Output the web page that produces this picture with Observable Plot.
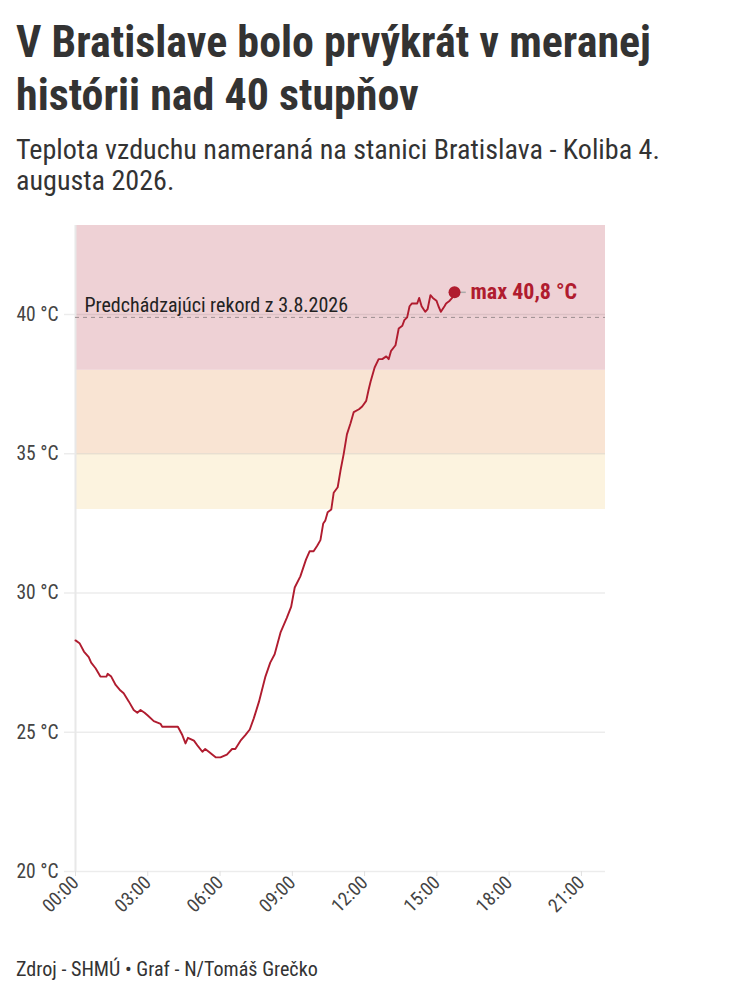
<!DOCTYPE html>
<html>
<head>
<meta charset="utf-8">
<script src="https://cdn.jsdelivr.net/npm/d3@7"></script>
<script src="https://cdn.jsdelivr.net/npm/@observablehq/plot@0.6"></script>
<style>
  html, body { margin: 0; padding: 0; background: #fff; }
  body { width: 738px; height: 1000px; position: relative; overflow: hidden; font-family: "Roboto Condensed", Roboto, sans-serif; color: #333; }
  .tline { position: absolute; left: 16px; white-space: nowrap; font-weight: 700; font-size: 40px; color: #333; line-height: 1; transform: translateY(-50%); }
  .sline { position: absolute; left: 16px; white-space: nowrap; font-size: 25px; color: #333; line-height: 1; transform: translateY(-50%); }
  #chart { position: absolute; left: 0; top: 200px; }
  #caption { position: absolute; left: 16px; top: 969px; font-size: 20px; color: #333; white-space: nowrap; line-height: 1; transform: translateY(-50%); }
</style>
</head>
<body>
<div class="tline" id="t1" style="top:43px">V Bratislave bolo prvýkrát v meranej</div>
<div class="tline" id="t2" style="top:96px">histórii nad 40 stupňov</div>
<div class="sline" id="s1" style="top:150px">Teplota vzduchu nameraná na stanici Bratislava - Koliba 4.</div>
<div class="sline" id="s2" style="top:181px">augusta 2026.</div>
<div id="chart"></div>
<div id="caption">Zdroj - SHMÚ • Graf - N/Tomáš Grečko</div>
<script>
// ---- data ----
const times = ["00:00","00:10","00:21","00:33","00:39","00:50","01:02","01:17","01:20","01:29","01:40","01:52","02:00","02:13","02:25","02:34","02:42","02:52","03:00","03:15","03:32","03:36","04:15","04:26","04:34","04:40","04:55","05:05","05:16","05:23","05:32","05:49","06:01","06:17","06:30","06:38","06:51","07:03","07:14","07:24","07:37","07:53","08:05","08:16","08:31","08:46","08:57","09:06","09:20","09:34","09:43","09:53","10:02","10:10","10:17","10:22","10:28","10:37","10:43","10:53","11:00","11:08","11:16","11:25","11:33","11:46","11:54","12:04","12:10","12:15","12:25","12:35","12:44","12:54","13:00","13:06","13:17","13:25","13:34","13:39","13:46","13:52","13:58","14:07","14:11","14:16","14:22","14:31","14:37","14:44","14:50","14:59","15:04","15:10","15:19","15:23","15:32","15:38","15:44"];
const temps = [28.3,28.2,27.9,27.7,27.5,27.3,27.0,27.0,27.1,27.0,26.7,26.5,26.4,26.1,25.8,25.7,25.8,25.7,25.6,25.4,25.3,25.2,25.2,24.9,24.6,24.8,24.7,24.5,24.3,24.4,24.3,24.1,24.1,24.2,24.4,24.4,24.7,24.9,25.1,25.5,26.1,27.0,27.5,27.8,28.6,29.1,29.5,30.2,30.6,31.2,31.5,31.5,31.7,31.9,32.5,32.6,32.9,33.0,33.6,33.8,34.4,35.0,35.7,36.1,36.5,36.6,36.7,36.9,37.3,37.6,38.1,38.4,38.4,38.5,38.4,38.7,38.9,39.5,39.6,39.8,39.9,40.3,40.4,40.4,40.4,40.6,40.3,40.1,40.2,40.7,40.6,40.5,40.3,40.1,40.3,40.4,40.5,40.6,40.8];

const bandLow = [33, 35, 38];
const bandHigh = [35, 38, 43.2];
const bandColors = ["#fcf3df", "#f9e4d3", "#eed1d5"];

const yTicks = [20, 25, 30, 35, 40];
const xTickTimes = ["00:00","03:00","06:00","09:00","12:00","15:00","18:00","21:00"];
const xDomainTimes = ["00:00", "22:00"];
const yDomain = [20, 43.2];

const recordValue = 39.9;
const recordLabel = "Predchádzajúci rekord z 3.8.2026";
const maxLabel = "max 40,8 °C";

const lineColor = "#b01c2f";

// ---- build ----
const toDate = t => { const [h, m] = t.split(":").map(Number); return new Date(Date.UTC(2026, 7, 4, h, m)); };
const data = times.map((t, i) => ({ date: toDate(t), temp: temps[i] }));
const x0 = toDate(xDomainTimes[0]), x1 = toDate(xDomainTimes[1]);
const bands = bandLow.map((lo, i) => ({ lo, hi: bandHigh[i], color: bandColors[i] }));
const maxPoint = data.reduce((a, b) => (b.temp > a.temp ? b : a));
const fmt = d3.utcFormat("%H:%M");

const chart = Plot.plot({
  width: 738,
  height: 735,
  marginLeft: 75,
  marginRight: 133,
  marginTop: 25,
  marginBottom: 64,
  style: { fontFamily: "'Roboto Condensed', Roboto, sans-serif", background: "transparent" },
  x: { type: "utc", domain: [x0, x1] },
  y: { domain: yDomain },
  marks: [
    ...bands.map(b => Plot.rect([b], { x1: () => x0, x2: () => x1, y1: "lo", y2: "hi", fill: b.color })),
    Plot.ruleY(yTicks, { stroke: "#000", strokeOpacity: 0.075, strokeWidth: 1.5, insetLeft: -11 }),
    Plot.ruleX([x0], { stroke: "#e8e8e8", strokeWidth: 2 }),
    Plot.axisY(yTicks, { tickFormat: d => `${d} °C`, tickSize: 0, tickPadding: 17, fontSize: 19.5, fill: "#444", label: null }),
    Plot.axisX(xTickTimes.map(toDate), { tickFormat: fmt, tickRotate: -45, tickSize: 5, tickPadding: 3, fontSize: 19, fill: "#444", stroke: "#e0e0e0", label: null }),
    Plot.ruleY([recordValue], { stroke: "#9a8d8f", strokeDasharray: "4,4", strokeWidth: 1 }),
    Plot.text([recordLabel], { x: () => x0, y: () => recordValue, text: d => d, dx: 9, dy: -5, lineAnchor: "bottom", textAnchor: "start", fontSize: 20, fill: "#222" }),
    Plot.line(data, { x: "date", y: "temp", stroke: lineColor, strokeWidth: 1.9 }),
    Plot.link([maxPoint], { x1: "date", y1: "temp", x2: d => new Date(+d.date + 28 * 60000), y2: "temp", stroke: "#aaa", strokeWidth: 1.5 }),
    Plot.dot([maxPoint], { x: "date", y: "temp", r: 6, fill: lineColor }),
    Plot.text([maxPoint], { x: "date", y: "temp", text: () => maxLabel, dx: 16, textAnchor: "start", fontSize: 22, fontWeight: "bold", fill: lineColor })
  ]
});
document.getElementById("chart").appendChild(chart);

// fit text lines to the reference widths by adjusting font size
function fitSize(id, target, others = []) {
  const el = document.getElementById(id);
  const w = el.getBoundingClientRect().width;
  if (w > 0) {
    const fs = parseFloat(getComputedStyle(el).fontSize) * target / w;
    el.style.fontSize = fs + "px";
    others.forEach(o => document.getElementById(o).style.fontSize = fs + "px");
  }
}
fitSize("t1", 635, ["t2"]);
fitSize("s1", 644, ["s2"]);
fitSize("caption", 302);
</script>
</body>
</html>
